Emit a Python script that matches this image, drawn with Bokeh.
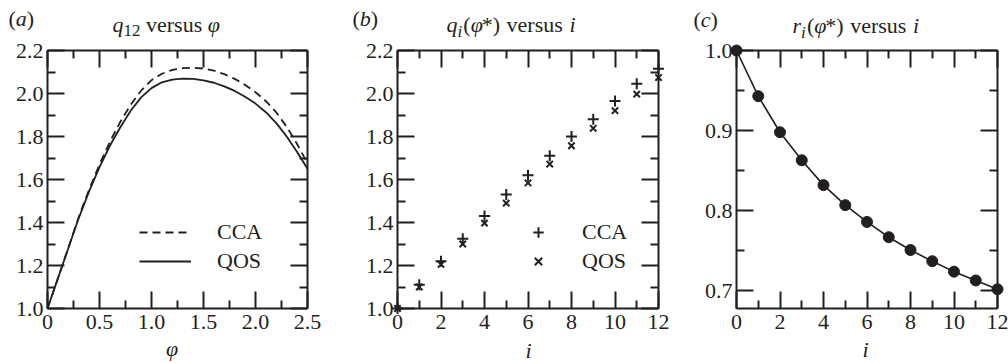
from bokeh.plotting import figure
from bokeh.layouts import row
from bokeh.models import (Range1d, FixedTicker, LinearAxis, Legend, LegendItem,
                          CustomJSTickFormatter, PrintfTickFormatter)
from bokeh.core.properties import value
from bokeh.embed import file_html
from bokeh.resources import INLINE

INK = "#231f20"
SERIF = "Liberation Serif"
H = 363
BASELINE_SHIFT = -9  # alphabetic baseline correction for the svg text glyphs

# ---------------- data ----------------
# (a) q12 as a function of phi
phi = [0.0, 0.1, 0.2, 0.3, 0.4, 0.5, 0.6, 0.7, 0.8, 0.9, 1.0, 1.1, 1.2,
       1.3, 1.4, 1.5, 1.6, 1.7, 1.8, 1.9, 2.0, 2.1, 2.2, 2.3, 2.4, 2.5]
q12_cca = [1.000, 1.140, 1.282, 1.425, 1.553, 1.670, 1.776, 1.868, 1.948, 2.013,
           2.062, 2.092, 2.110, 2.118, 2.120, 2.116, 2.106, 2.090, 2.068, 2.040,
           2.006, 1.965, 1.912, 1.845, 1.765, 1.675]
q12_qos = [1.000, 1.140, 1.280, 1.420, 1.545, 1.658, 1.757, 1.843, 1.920, 1.982,
           2.025, 2.052, 2.065, 2.069, 2.068, 2.061, 2.050, 2.033, 2.012, 1.985,
           1.953, 1.913, 1.862, 1.800, 1.728, 1.650]

# (b) q_i(phi*) against i
i_vals = [0, 1, 2, 3, 4, 5, 6, 7, 8, 9, 10, 11, 12]
qi_cca = [1.000, 1.110, 1.220, 1.325, 1.430, 1.530, 1.620, 1.710, 1.800, 1.880, 1.965, 2.045, 2.115]
qi_qos = [1.000, 1.100, 1.205, 1.300, 1.397, 1.490, 1.584, 1.672, 1.757, 1.838, 1.920, 1.997, 2.074]

# (c) r_i(phi*) against i
ri = [1.000, 0.943, 0.898, 0.863, 0.832, 0.807, 0.786, 0.767, 0.751, 0.737, 0.724, 0.713, 0.702]

# tick positions
phi_ticks = [0.0, 0.5, 1.0, 1.5, 2.0, 2.5]
phi_minor = [0.25, 0.75, 1.25, 1.75, 2.25]
q_ticks = [1.0, 1.2, 1.4, 1.6, 1.8, 2.0, 2.2]
q_minor = [1.1, 1.3, 1.5, 1.7, 1.9, 2.1]
i_ticks = [0, 2, 4, 6, 8, 10, 12]
i_minor = [1, 3, 5, 7, 9, 11]
r_ticks = [0.7, 0.8, 0.9, 1.0]
r_minor = [0.75, 0.85, 0.95]

# approximate Times advance widths (em) used to lay out composite labels
W_ROMAN = {"(": 0.333, ")": 0.333, "*": 0.5, " ": 0.25, "v": 0.5, "e": 0.444,
           "r": 0.333, "s": 0.389, "u": 0.5, "1": 0.5, "2": 0.5}
W_ITAL = {"a": 0.5, "b": 0.5, "c": 0.444, "q": 0.5, "i": 0.278, "r": 0.389, "φ": 0.5}


def text_width(txt, italic, size):
    table = W_ITAL if italic else W_ROMAN
    return sum(table.get(ch, 0.5) for ch in txt) * size


class Panel:
    def __init__(self, x0, width, frame, xr, yr):
        self.x0 = x0
        self.frame = frame  # left, right, top, bottom in figure pixels
        self.xr = xr
        self.yr = yr
        left, right, top, bottom = frame
        p = figure(width=width, height=H, x_range=Range1d(*xr), y_range=Range1d(*yr),
                   title=None, output_backend="svg", toolbar_location=None,
                   x_axis_location=None, y_axis_location=None,
                   min_border_left=left, min_border_right=width - right,
                   min_border_top=top, min_border_bottom=H - bottom)
        p.grid.visible = False
        p.outline_line_color = None
        p.background_fill_color = "white"
        p.border_fill_color = "white"
        self.p = p

    def to_data(self, gx, gy):
        left, right, top, bottom = self.frame
        lx = gx - self.x0
        x = self.xr[0] + (lx - left) / (right - left) * (self.xr[1] - self.xr[0])
        y = self.yr[0] + (bottom - gy) / (bottom - top) * (self.yr[1] - self.yr[0])
        return x, y

    def axes(self, xticks, xminor, yticks, yminor, xfmt, yfmt):
        for side, ticks, minor, fmt in (("below", xticks, xminor, xfmt),
                                        ("left", yticks, yminor, yfmt),
                                        ("above", xticks, xminor, None),
                                        ("right", yticks, yminor, None)):
            ax = LinearAxis(ticker=FixedTicker(ticks=ticks, minor_ticks=minor))
            ax.axis_line_color = INK
            ax.axis_line_width = 2
            ax.major_tick_line_color = INK
            ax.major_tick_line_width = 2
            ax.major_tick_in = 17
            ax.major_tick_out = 0
            ax.minor_tick_line_color = INK
            ax.minor_tick_line_width = 2
            ax.minor_tick_in = 8
            ax.minor_tick_out = 0
            ax.major_label_text_font = SERIF
            ax.major_label_text_font_size = "22px"
            ax.major_label_text_color = INK
            if fmt is None:
                ax.formatter = CustomJSTickFormatter(code="return ''")
                ax.major_label_standoff = 0
            else:
                ax.formatter = fmt
                ax.major_label_standoff = 6 if side == "below" else 4
            self.p.add_layout(ax, side)
        return self

    def write(self, pieces, gx, gy, align="left"):
        """pieces: (text, italic, size, dy, gap_before_em); drawn as unclipped text glyphs"""
        total = sum(text_width(t, it, s) + g * 22 for t, it, s, dy, g in pieces)
        x = gx - (total / 2 if align == "center" else 0)
        for t, it, s, dy, g in pieces:
            x += g * 22
            dx, dyy = self.to_data(x, gy + dy + BASELINE_SHIFT)
            self.p.text(x=[dx], y=[dyy], text=[t], text_font=value(SERIF),
                        text_font_size=value(f"{s}px"),
                        text_font_style="italic" if it else "normal",
                        text_color=INK, text_align="left",
                        text_baseline="alphabetic", level="overlay")
            x += text_width(t, it, s)


def legend(items, loc, glyph_w, standoff):
    return Legend(items=items, location=loc, orientation="vertical",
                  padding=0, margin=0, spacing=3,
                  glyph_width=glyph_w, glyph_height=26, label_height=26,
                  label_standoff=standoff, label_text_font=SERIF,
                  label_text_font_size="22px", label_text_color=INK,
                  border_line_color=None, background_fill_alpha=0)


# ---------------- (a) ----------------
A = Panel(0, 335, (47, 307, 50, 308), (0.0, 2.5), (1.0, 2.2))
A.axes(phi_ticks, phi_minor, q_ticks, q_minor, PrintfTickFormatter(format="%.1f"),
       PrintfTickFormatter(format="%.1f"))
A.p.below[0].major_label_overrides = {0: "0"}
ra_cca = A.p.line(phi, q12_cca, line_color=INK, line_width=1.8, line_dash="8 5")
ra_qos = A.p.line(phi, q12_qos, line_color=INK, line_width=1.8)
A.p.add_layout(legend([LegendItem(label="CCA", renderers=[ra_cca]),
                       LegendItem(label="QOS", renderers=[ra_qos])], (92, 34), 52, 26))
A.write([("(", False, 22, 0, 0), ("a", True, 22, 0, 0), (")", False, 22, 0, 0)], 8, 27)
A.write([("q", True, 22, 0, 0), ("12", False, 17, 6, 0), ("versus", False, 22, 0, 0.25),
         ("φ", True, 22, 0, 0.25)], 112, 33)
A.write([("φ", True, 22, 0, 0)], 171, 357, align="center")

# ---------------- (b) ----------------
B = Panel(335, 335, (62, 323, 50, 308), (0, 12), (1.0, 2.2))
B.axes(i_ticks, i_minor, q_ticks, q_minor, PrintfTickFormatter(format="%d"),
       PrintfTickFormatter(format="%.1f"))
rb_cca = B.p.scatter(i_vals, qi_cca, marker="cross", size=11, line_color=INK,
                     line_width=2, level="overlay")
rb_qos = B.p.scatter(i_vals, qi_qos, marker="x", size=9, line_color=INK,
                     line_width=2, level="overlay")
B.p.add_layout(legend([LegendItem(label="CCA", renderers=[rb_cca]),
                       LegendItem(label="QOS", renderers=[rb_qos])], (128, 34), 26, 31))
B.write([("(", False, 22, 0, 0), ("b", True, 22, 0, 0), (")", False, 22, 0, 0)], 352, 27)
B.write([("q", True, 22, 0, 0), ("i", True, 17, 7, 0), ("(", False, 22, 0, 0.05),
         ("φ", True, 22, 0, 0), ("*", False, 22, 0, 0), (")", False, 22, 0, 0),
         ("versus", False, 22, 0, 0.3), ("i", True, 22, 0, 0.3)], 446, 33)
B.write([("i", True, 22, 0, 0)], 528, 359, align="center")

# ---------------- (c) ----------------
C = Panel(670, 338, (66, 327, 49, 309), (0, 12), (0.678, 1.0))
C.axes(i_ticks, i_minor, r_ticks, r_minor, PrintfTickFormatter(format="%d"),
       PrintfTickFormatter(format="%.1f"))
C.p.line(i_vals, ri, line_color=INK, line_width=1.6)
C.p.scatter(i_vals, ri, marker="circle", size=11, fill_color=INK, line_color=INK,
            level="overlay")
C.write([("(", False, 22, 0, 0), ("c", True, 22, 0, 0), (")", False, 22, 0, 0)], 693, 27)
C.write([("r", True, 22, 0, 0), ("i", True, 17, 7, 0), ("(", False, 22, 0, 0.05),
         ("φ", True, 22, 0, 0), ("*", False, 22, 0, 0), (")", False, 22, 0, 0),
         ("versus", False, 22, 0, 0.3), ("i", True, 22, 0, 0.3)], 792, 33)
C.write([("i", True, 22, 0, 0)], 865, 359, align="center")

layout = row(A.p, B.p, C.p)
open("out.html", "w").write(file_html(layout, INLINE))
